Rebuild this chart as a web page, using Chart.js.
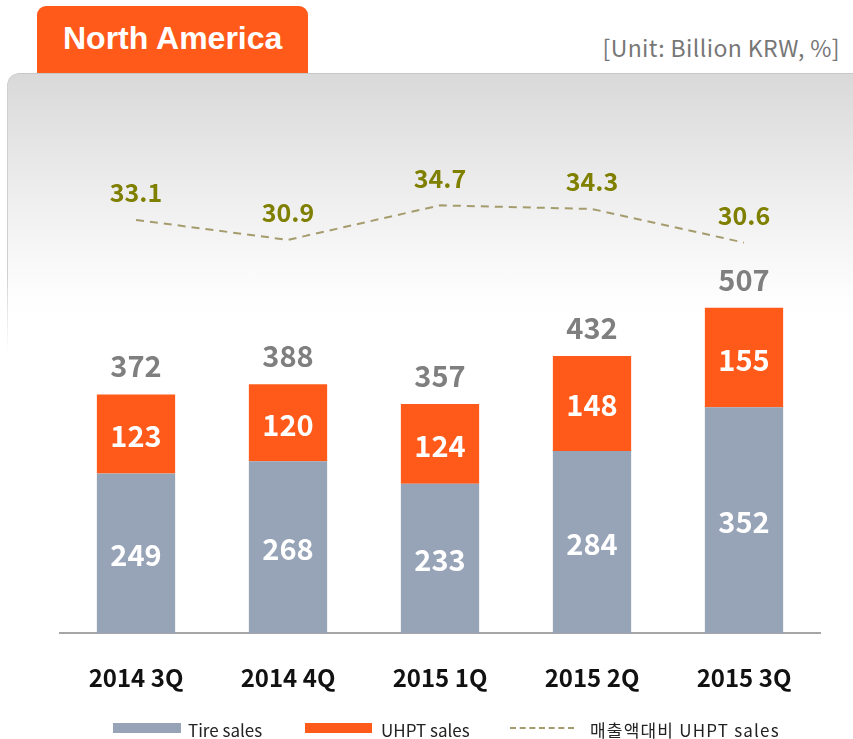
<!DOCTYPE html>
<html>
<head>
<meta charset="utf-8">
<script src="https://cdn.jsdelivr.net/npm/chart.js@4.4.1/dist/chart.umd.min.js"></script>
<style>
  html, body { margin:0; padding:0; background:#fff; }
  #wrap { position:relative; width:853px; height:739px; overflow:hidden; }
  #panel { position:absolute; left:7px; top:73px; width:870px; height:280px;
    border-top:1px solid #c8c8c8; border-left:1px solid #d0d0d0; border-top-left-radius:12px;
    background:linear-gradient(to bottom, #d9d9d9 0px, #ececec 110px, #fafafa 200px, #ffffff 250px);
    -webkit-mask-image:linear-gradient(to bottom, #000 0px, #000 200px, transparent 280px);
    mask-image:linear-gradient(to bottom, #000 0px, #000 200px, transparent 280px); }
  #tab { position:absolute; left:37px; top:6px; width:271px; height:67px; background:#FF5A1A;
    border-top-left-radius:9px; border-top-right-radius:9px; }
  #tab span { position:absolute; left:26px; top:14px; color:#fff; font:bold 32px "Liberation Sans", Arial, sans-serif; }
  #unit { position:absolute; right:13px; top:30px; color:#777; font:23px "Noto Sans CJK KR", sans-serif; letter-spacing:0.4px; }
  canvas { position:absolute; left:0; top:0; }
  .lg { position:absolute; top:717px; font:17px "Noto Sans CJK KR", sans-serif; color:#222; white-space:nowrap; }
  .box { position:absolute; top:723px; height:10px; }
</style>
</head>
<body>
<div id="wrap">
  <div id="panel"></div>
  <div id="tab"><span>North America</span></div>
  <div id="unit">[Unit: Billion KRW, %]</div>
  <canvas id="c" width="853" height="739"></canvas>
  <div class="box" style="left:113px;width:68px;background:#97A3B6"></div>
  <div class="lg" style="left:188px">Tire sales</div>
  <div class="box" style="left:305px;width:67px;background:#FF5A1A"></div>
  <div class="lg" style="left:381px">UHPT sales</div>
  <div class="box" style="left:510px;width:64px;top:727px;height:0;border-top:2px dashed #A59C6E"></div>
  <div class="lg" style="left:590px;letter-spacing:1.2px">매출액대비 UHPT sales</div>
</div>
<script>
const categories = ["2014 3Q", "2014 4Q", "2015 1Q", "2015 2Q", "2015 3Q"];
const tireSales = [249, 268, 233, 284, 352];
const uhptSales = [123, 120, 124, 148, 155];
const totalSales = [372, 388, 357, 432, 507];
const uhptRatio = [33.1, 30.9, 34.7, 34.3, 30.6];

const labelPlugin = {
  id: 'labels',
  afterDatasetsDraw(chart) {
    const ctx = chart.ctx;
    ctx.save();
    ctx.textAlign = 'center';
    ctx.textBaseline = 'middle';
    const font = 'bold 29px "Noto Sans CJK KR", "Open Sans", sans-serif';
    [0, 1].forEach(di => {
      const meta = chart.getDatasetMeta(di);
      meta.data.forEach((bar, i) => {
        const v = chart.data.datasets[di].data[i];
        ctx.fillStyle = '#ffffff';
        ctx.font = font;
        ctx.fillText(String(v), bar.x, (bar.y + bar.base) / 2 + 2);
      });
    });
    const topMeta = chart.getDatasetMeta(1);
    topMeta.data.forEach((bar, i) => {
      ctx.fillStyle = '#7f7f7f';
      ctx.font = font;
      ctx.fillText(String(totalSales[i]), bar.x, bar.y - 28);
    });
    const lineMeta = chart.getDatasetMeta(2);
    lineMeta.data.forEach((pt, i) => {
      ctx.fillStyle = '#7F7F00';
      ctx.font = 'bold 25px "Noto Sans CJK KR", "Open Sans", sans-serif';
      ctx.fillText(uhptRatio[i].toFixed(1), pt.x, pt.y - 27);
    });
    ctx.restore();
  }
};

new Chart(document.getElementById('c'), {
  data: {
    labels: categories,
    datasets: [
      { type: 'bar', label: 'Tire sales', data: tireSales, backgroundColor: '#97A3B6', yAxisID: 'y', order: 2,
        barPercentage: 0.515, categoryPercentage: 1 },
      { type: 'bar', label: 'UHPT sales', data: uhptSales, backgroundColor: '#FF5A1A', yAxisID: 'y', order: 2,
        barPercentage: 0.515, categoryPercentage: 1 },
      { type: 'line', label: '매출액대비 UHPT sales', data: uhptRatio, yAxisID: 'y2', order: 1,
        borderColor: '#A59C6E', borderWidth: 2, borderDash: [8, 6], pointRadius: 0, fill: false, tension: 0 }
    ]
  },
  options: {
    responsive: false,
    animation: false,
    layout: { padding: { left: 60, right: 33, top: 80, bottom: 17 } },
    plugins: { legend: { display: false }, tooltip: { enabled: false } },
    scales: {
      x: {
        stacked: true,
        grid: { display: false, drawTicks: false },
        border: { display: true, color: '#a6a6a6', width: 2 },
        ticks: { color: '#111', padding: 30, font: { family: '"Noto Sans CJK KR", sans-serif', size: 24, weight: 'bold' } }
      },
      y: { stacked: true, display: false, min: 0, max: 862 },
      y2: { display: false, min: -12.4, max: 48.5 }
    }
  },
  plugins: [labelPlugin]
});
</script>
</body>
</html>
